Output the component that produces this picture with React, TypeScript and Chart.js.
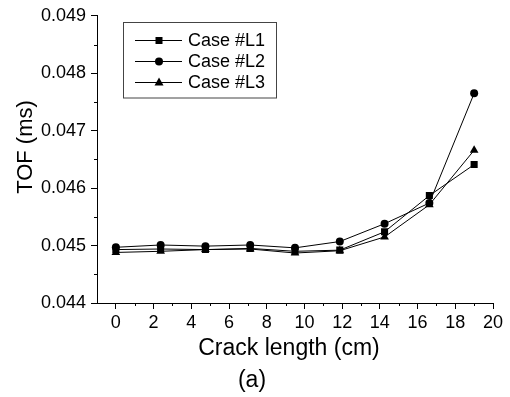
import React, { useEffect, useRef } from "react";
import { Chart, registerables } from "chart.js";

Chart.register(...registerables);

const crackLength = [0, 2.375, 4.75, 7.125, 9.5, 11.875, 14.25, 16.625, 19];
const caseL1 = [0.04493, 0.04494, 0.04493, 0.04495, 0.0449, 0.04492, 0.04524, 0.04587, 0.04641];
const caseL2 = [0.04497, 0.04501, 0.04499, 0.04501, 0.04496, 0.04507, 0.04538, 0.04574, 0.04765];
const caseL3 = [0.04488, 0.0449, 0.04493, 0.04494, 0.04487, 0.04491, 0.04515, 0.04571, 0.04666];
const seriesNames = ["Case #L1", "Case #L2", "Case #L3"];
const seriesMarkers = ["rect", "circle", "triangle"];
const xMajorTicks = [0, 2, 4, 6, 8, 10, 12, 14, 16, 18, 20];
const xMinorTicks = [1, 3, 5, 7, 9, 11, 13, 15, 17, 19];
const yMajorTicks = [0.044, 0.045, 0.046, 0.047, 0.048, 0.049];
const yMinorTicks = [0.0445, 0.0455, 0.0465, 0.0475, 0.0485];
const xTitle = "Crack length (cm)";
const yTitle = "TOF (ms)";
const caption = "(a)";

const FONT = "'Liberation Sans', Arial, sans-serif";

function drawMarker(ctx: CanvasRenderingContext2D, style: string, x: number, y: number) {
  ctx.beginPath();
  if (style === "rect") {
    ctx.rect(x - 3.5, y - 3.5, 7, 7);
  } else if (style === "circle") {
    ctx.arc(x, y, 4, 0, Math.PI * 2);
  } else {
    ctx.moveTo(x, y - 5);
    ctx.lineTo(x + 4.5, y + 3);
    ctx.lineTo(x - 4.5, y + 3);
    ctx.closePath();
  }
  ctx.fillStyle = "#000";
  ctx.fill();
}

const extrasPlugin = {
  id: "extras",
  afterDraw(chart: any) {
    const ctx: CanvasRenderingContext2D = chart.ctx;
    const xs = chart.scales.x;
    const ys = chart.scales.y;
    const area = chart.chartArea;
    ctx.save();
    // minor ticks
    ctx.strokeStyle = "#000";
    ctx.lineWidth = 1;
    ctx.beginPath();
    xMinorTicks.forEach((v) => {
      const px = Math.round(xs.getPixelForValue(v)) + 0.5;
      ctx.moveTo(px, area.bottom);
      ctx.lineTo(px, area.bottom + 3);
    });
    yMinorTicks.forEach((v) => {
      const py = Math.round(ys.getPixelForValue(v)) + 0.5;
      ctx.moveTo(area.left - 3, py);
      ctx.lineTo(area.left, py);
    });
    ctx.stroke();

    // titles
    ctx.fillStyle = "#000";
    ctx.font = `23px ${FONT}`;
    ctx.textAlign = "center";
    ctx.textBaseline = "alphabetic";
    ctx.fillText(xTitle, 289, 355);
    ctx.fillText(caption, 252, 387);
    ctx.save();
    ctx.translate(32, 147);
    ctx.rotate(-Math.PI / 2);
    ctx.font = `22px ${FONT}`;
    ctx.fillText(yTitle, 0, 0);
    ctx.restore();

    // legend
    ctx.strokeStyle = "#444";
    ctx.lineWidth = 1;
    ctx.strokeRect(123.5, 22.5, 153, 75.5);
    const rows = [40.5, 61.5, 82.5];
    ctx.font = `18px ${FONT}`;
    ctx.textAlign = "left";
    ctx.textBaseline = "middle";
    seriesNames.forEach((name, i) => {
      const y = rows[i];
      ctx.strokeStyle = "#000";
      ctx.beginPath();
      ctx.moveTo(135, y);
      ctx.lineTo(182, y);
      ctx.stroke();
      drawMarker(ctx, seriesMarkers[i], 159, y);
      ctx.fillStyle = "#000";
      ctx.fillText(name, 188, y + 1);
    });
    ctx.restore();
  },
};

export default function App() {
  const ref = useRef<HTMLCanvasElement | null>(null);
  useEffect(() => {
    if (!ref.current) return;
    const series = [caseL1, caseL2, caseL3];
    const chart = new Chart(ref.current, {
      type: "line",
      data: {
        datasets: series.map((vals, i) => ({
          label: seriesNames[i],
          data: crackLength.map((x, j) => ({ x, y: vals[j] })),
          borderColor: "#000",
          backgroundColor: "#000",
          borderWidth: 1,
          pointStyle: seriesMarkers[i] as any,
          pointRadius: seriesMarkers[i] === "circle" ? 4 : 5,
          pointBorderWidth: 0,
          pointBackgroundColor: "#000",
          tension: 0,
        })),
      },
      options: {
        responsive: false,
        animation: false,
        events: [],
        layout: { padding: { left: 0, top: 15, right: 17, bottom: 0 } },
        plugins: { legend: { display: false }, tooltip: { enabled: false } },
        scales: {
          x: {
            type: "linear",
            min: -1,
            max: 20,
            afterBuildTicks: (s: any) => {
              s.ticks = xMajorTicks.map((v) => ({ value: v }));
            },
            afterFit: (s: any) => {
              s.height = 94;
            },
            grid: { drawOnChartArea: false, drawTicks: true, tickLength: 6, color: "#000" },
            border: { display: true, color: "#000", width: 1 },
            ticks: {
              color: "#000",
              font: { family: FONT, size: 18 },
              padding: 3,
              maxRotation: 0,
              autoSkip: false,
              callback: (v: any) => String(v),
            },
          },
          y: {
            type: "linear",
            min: 0.044,
            max: 0.049,
            afterBuildTicks: (s: any) => {
              s.ticks = yMajorTicks.map((v) => ({ value: v }));
            },
            afterFit: (s: any) => {
              s.width = 97;
            },
            grid: { drawOnChartArea: false, drawTicks: true, tickLength: 6, color: "#000" },
            border: { display: true, color: "#000", width: 1 },
            ticks: {
              color: "#000",
              font: { family: FONT, size: 18 },
              padding: 5,
              autoSkip: false,
              callback: (v: any) => Number(v).toFixed(3),
            },
          },
        },
      },
      plugins: [extrasPlugin],
    });
    return () => chart.destroy();
  }, []);
  return (
    <div style={{ position: "fixed", left: 0, top: 0, width: 510, height: 397, background: "#fff" }}>
      <canvas ref={ref} width={510} height={397} style={{ display: "block" }} />
    </div>
  );
}
